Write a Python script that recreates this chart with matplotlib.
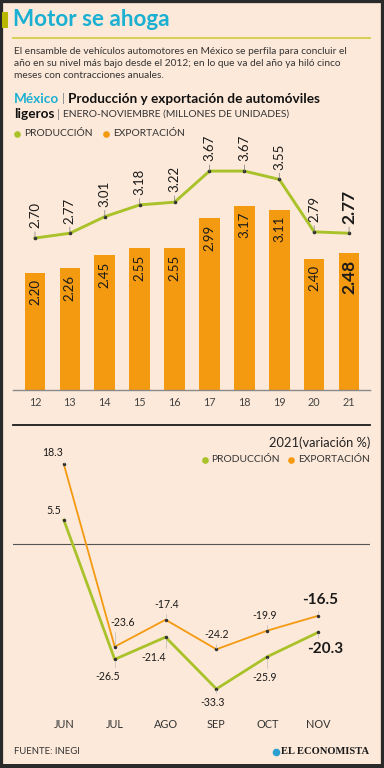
import matplotlib
matplotlib.use('Agg')
import matplotlib.pyplot as plt
from matplotlib.patches import Rectangle

plt.rcParams['font.family'] = ['Lato', 'DejaVu Sans']

# ---------------- data ----------------
years = ['12', '13', '14', '15', '16', '17', '18', '19', '20', '21']
produccion = [2.70, 2.77, 3.01, 3.18, 3.22, 3.67, 3.67, 3.55, 2.79, 2.77]
exportacion = [2.20, 2.26, 2.45, 2.55, 2.55, 2.99, 3.17, 3.11, 2.40, 2.48]

meses = ['JUN', 'JUL', 'AGO', 'SEP', 'OCT', 'NOV']
var_produccion = [5.5, -26.5, -21.4, -33.3, -25.9, -20.3]
var_exportacion = [18.3, -23.6, -17.4, -24.2, -19.9, -16.5]

# ---------------- style ----------------
BG = '#fde9d9'
ORANGE = '#f39a10'
GREEN = '#a9c22a'
CYAN = '#1bb0d2'
FRAME = '#2a2a2a'

W, H = 384, 768
fig = plt.figure(figsize=(3.84, 7.68), dpi=100)
fig.patch.set_facecolor(BG)


def fx(px):
    return px / W


def fy(py):
    return 1 - py / H


# frame
fig.patches.append(Rectangle((0, 0), 1, 1, transform=fig.transFigure,
                             fill=False, ec=FRAME, lw=4.5, zorder=10))
fig.patches.append(Rectangle((fx(381), 0), fx(3), 1, transform=fig.transFigure,
                             fc=FRAME, ec='none', zorder=10))
fig.patches.append(Rectangle((0, 0), 1, 4 / H, transform=fig.transFigure,
                             fc=FRAME, ec='none', zorder=10))
# green square next to title
fig.patches.append(Rectangle((fx(2), fy(28)), fx(6), 16 / H, transform=fig.transFigure,
                             fc='#b8b800', ec='none', zorder=11))

fig.text(fx(13), fy(20), 'Motor se ahoga', fontsize=16.2, fontweight='bold',
         color=CYAN, va='center', ha='left')
fig.add_artist(plt.Line2D([fx(13), fx(370)], [fy(37.5), fy(37.5)],
                          transform=fig.transFigure, color='#d6cd4a', lw=1.3))

para = ('El ensamble de vehículos automotores en México se perfila para concluir el\n'
        'año en su nivel más bajo desde el 2012; en lo que va del año ya hiló cinco\n'
        'meses con contracciones anuales.')
fig.text(fx(14), fy(47), para, fontsize=7.3, color='#333333', va='top', ha='left',
         linespacing=1.45)

renderer = fig.canvas.get_renderer()


def seq_text(x0, y, parts):
    x = x0
    for s, kw in parts:
        t = fig.text(fx(x), fy(y), s, va='center', ha='left', **kw)
        bb = t.get_window_extent(renderer)
        x += bb.width
    return x


seq_text(14, 99, [('México', dict(fontsize=9.8, fontweight='bold', color=CYAN)),
                  (' | ', dict(fontsize=8.5, color='#888888')),
                  ('Producción y exportación de automóviles',
                   dict(fontsize=9.8, fontweight='bold', color='#111111'))])
seq_text(14, 114.5, [('ligeros', dict(fontsize=9.8, fontweight='bold', color='#111111')),
                     (' | ', dict(fontsize=8.5, color='#888888')),
                     ('ENERO-NOVIEMBRE (MILLONES DE UNIDADES)',
                      dict(fontsize=7.4, color='#333333'))])


def dot(x, y, color, ms):
    fig.add_artist(plt.Line2D([fx(x)], [fy(y)], transform=fig.transFigure,
                              ls='none', marker='o', ms=ms, mfc=color, mec='none'))


def legend_item(xdot, xtxt, y, color, label):
    dot(xdot, y, color, 4.8)
    fig.text(fx(xtxt), fy(y), label, color='#333333', fontsize=7.4, va='center',
             ha='left')


# top legend
legend_item(17, 24, 134, GREEN, 'PRODUCCIÓN')
legend_item(106, 113, 134, ORANGE, 'EXPORTACIÓN')

# ---------------- top chart ----------------
ax1 = fig.add_axes([fx(13), fy(390), fx(357), 250 / H])
ax1.set_facecolor('none')
x1 = list(range(len(years)))
ax1.bar(x1, exportacion, width=0.59, color=ORANGE, zorder=2)
ax1.plot(x1, produccion, color=GREEN, lw=2.1, zorder=3)
ax1.plot(x1, produccion, ls='none', marker='o', ms=1.6, color='#333333', zorder=4)
ax1.set_xlim(-0.63, 9.6)
ax1.set_ylim(0.5, 4.12)
for s in ['top', 'right', 'left']:
    ax1.spines[s].set_visible(False)
ax1.spines['bottom'].set_color('#8a8a8a')
ax1.spines['bottom'].set_linewidth(1.0)
ax1.set_yticks([])
ax1.set_xticks(x1)
ax1.set_xticklabels(years, fontsize=7.8, color='#444444')
ax1.tick_params(axis='x', length=0, pad=5)

n = len(years)
for i in range(n):
    last = i == n - 1
    ax1.annotate(f'{exportacion[i]:.2f}', (i, exportacion[i]), xytext=(0, -4.5),
                 textcoords='offset points', rotation=90, ha='center', va='top',
                 fontsize=12.5 if last else 9.5,
                 fontweight='bold' if last else 'normal', color='#1a1a1a', zorder=5)
    ax1.annotate(f'{produccion[i]:.2f}', (i, produccion[i]), xytext=(0, 7),
                 textcoords='offset points', rotation=90, ha='center', va='bottom',
                 fontsize=12.5 if last else 9.5,
                 fontweight='bold' if last else 'normal', color='#1a1a1a', zorder=5,
                 arrowprops=dict(arrowstyle='-', color='#777777', lw=0.5,
                                 shrinkA=0.5, shrinkB=0, relpos=(0.5, 0)))

# separator
fig.add_artist(plt.Line2D([fx(13), fx(370)], [fy(425), fy(425)],
                          transform=fig.transFigure, color='#1a1a1a', lw=1.3))

# ---------------- bottom chart ----------------
fig.text(fx(370), fy(443), '2021(variación %)', fontsize=9.3, color='#222222',
         ha='right', va='center')
legend_item(205, 211, 459.5, GREEN, 'PRODUCCIÓN')
legend_item(291, 298, 459.5, ORANGE, 'EXPORTACIÓN')

ax2 = fig.add_axes([fx(13), fy(712), fx(357), 272 / H])
ax2.set_facecolor('none')
x2 = list(range(len(meses)))
ax2.axhline(0, color='#555555', lw=0.8, zorder=1)
ax2.plot(x2, var_exportacion, color=ORANGE, lw=1.3, zorder=3)
ax2.plot(x2, var_produccion, color=GREEN, lw=2.0, zorder=3)
ax2.plot(x2, var_exportacion, ls='none', marker='o', ms=1.5, color='#333333', zorder=4)
ax2.plot(x2, var_produccion, ls='none', marker='o', ms=1.5, color='#333333', zorder=4)
ax2.set_xlim(-1.0, 6.02)
ax2.set_ylim(-38.6, 23.9)
for s in ax2.spines.values():
    s.set_visible(False)
ax2.set_yticks([])
ax2.set_xticks(x2)
ax2.set_xticklabels(meses, fontsize=7.8, color='#333333')
ax2.tick_params(axis='x', length=0, pad=5)

off_exp = [(-8, 8.4), (5.8, 17.3), (0.7, 10.8), (0, 10.8), (-2.2, 10.8), (1.4, 11.5)]
off_prod = [(-7.2, 7.2), (-5, -12.2), (-8.6, -15), (-2.9, -10), (-2.2, -15), (5, -12.2)]
m = len(meses)
for i in range(m):
    last = i == m - 1
    for vals, offs in ((var_exportacion, off_exp), (var_produccion, off_prod)):
        ax2.annotate(f'{vals[i]:.1f}', (i, vals[i]), xytext=offs[i],
                     textcoords='offset points', ha='center', va='center',
                     fontsize=11 if last else 7.6,
                     fontweight='bold' if last else 'normal', color='#1a1a1a', zorder=5,
                     arrowprops=dict(arrowstyle='-', color='#bbbbbb', lw=0.5,
                                     shrinkA=1, shrinkB=1,
                                     connectionstyle='angle,angleA=0,angleB=90,rad=0'))

# footer
fig.text(fx(14), fy(752), 'FUENTE: INEGI', fontsize=6.8, color='#333333',
         ha='left', va='center')
logo = fig.text(fx(369), fy(752), 'EL ECONOMISTA', fontsize=7.6, fontweight='bold',
                family='Liberation Serif', color='#1a1a1a', ha='right', va='center')
lb = logo.get_window_extent(renderer)
dot(lb.x0 - 5, 751.5, '#2a9fd0', 5.5)

fig.savefig('out.png', dpi=100, facecolor=BG)
